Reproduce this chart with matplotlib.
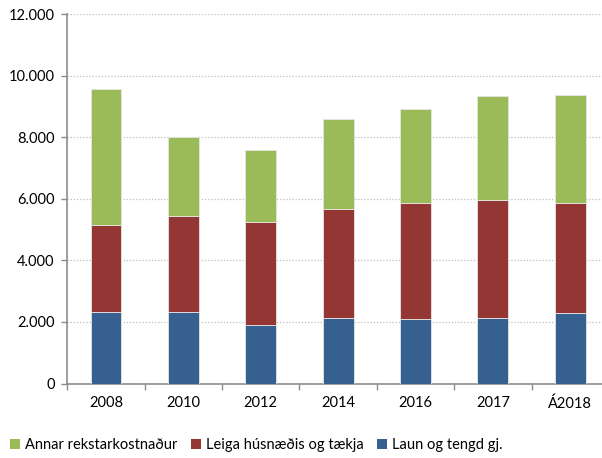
import numpy as np
import matplotlib
matplotlib.use("Agg")
import matplotlib.pyplot as plt
from matplotlib.patches import Patch
from matplotlib.ticker import FuncFormatter, FixedLocator

# Data
years = ["2008", "2010", "2012", "2014", "2016", "2017", "Á2018"]
laun = [2338, 2338, 1914, 2142, 2110, 2142, 2305]
leiga_top = [5161, 5455, 5259, 5683, 5879, 5977, 5879]
annar_top = [9576, 8011, 7587, 8585, 8911, 9348, 9381]

leiga = [t - b for t, b in zip(leiga_top, laun)]
annar = [t - b for t, b in zip(annar_top, leiga_top)]

c_blue = "#35608F"
c_red = "#943634"
c_green = "#9BBB59"

plt.rcParams["font.family"] = ["Lato", "DejaVu Sans"]

W, H = 602, 458
fig = plt.figure(figsize=(W / 100, H / 100), dpi=100)
left, right, top, bottom = 67.3, 609.0, 14.3, 383.5
ax = fig.add_axes([left / W, 1 - bottom / H, (right - left) / W, (bottom - top) / H])

x = np.arange(len(years))
bw = 0.40
ax.bar(x, laun, bw, color=c_blue, edgecolor="#E6E6E6", linewidth=0.6, zorder=3)
ax.bar(x, leiga, bw, bottom=laun, color=c_red, edgecolor="#E6E6E6", linewidth=0.6, zorder=3)
ax.bar(x, annar, bw, bottom=leiga_top, color=c_green, edgecolor="#E6E6E6", linewidth=0.6, zorder=3)

ax.set_xlim(-0.5, len(years) - 0.5)
ax.set_ylim(0, 12000)
ax.set_yticks(np.arange(0, 12001, 2000))
ax.yaxis.set_major_formatter(FuncFormatter(lambda v, p: f"{int(v):,}".replace(",", ".")))
ax.grid(axis="y", color="#BFBFBF", linestyle=(0, (1, 1.5)), linewidth=0.9, zorder=0)

ax.set_xticks(x)
ax.set_xticklabels(years)
ax.xaxis.set_minor_locator(FixedLocator(np.arange(-0.5, len(years), 1.0)))
ax.tick_params(axis="x", which="major", length=0, pad=9, labelsize=10.5, colors="#000000")
ax.tick_params(axis="x", which="minor", length=4, color="#8C8C8C", width=1)
ax.tick_params(axis="y", length=4, color="#8C8C8C", width=1, pad=5, labelsize=10.5)

for s in ["top", "right"]:
    ax.spines[s].set_visible(False)
for s in ["left", "bottom"]:
    ax.spines[s].set_color("#8C8C8C")
    ax.spines[s].set_linewidth(1.2)

# legend, one entry per slot like the original
labels = ["Annar rekstarkostnaður", "Leiga húsnæðis og tækja", "Laun og tengd gj."]
colors = [c_green, c_red, c_blue]
xs = [10, 191, 377]
for lab, col, xp in zip(labels, colors, xs):
    leg = fig.legend(handles=[Patch(facecolor=col, edgecolor="none")], labels=[lab],
                     loc="center left", bbox_to_anchor=(xp / W, 1 - 445 / H),
                     frameon=False, fontsize=10.5, handlelength=0.7, handleheight=0.7,
                     handletextpad=0.35, borderpad=0, borderaxespad=0)

fig.savefig("out.png", dpi=100)
